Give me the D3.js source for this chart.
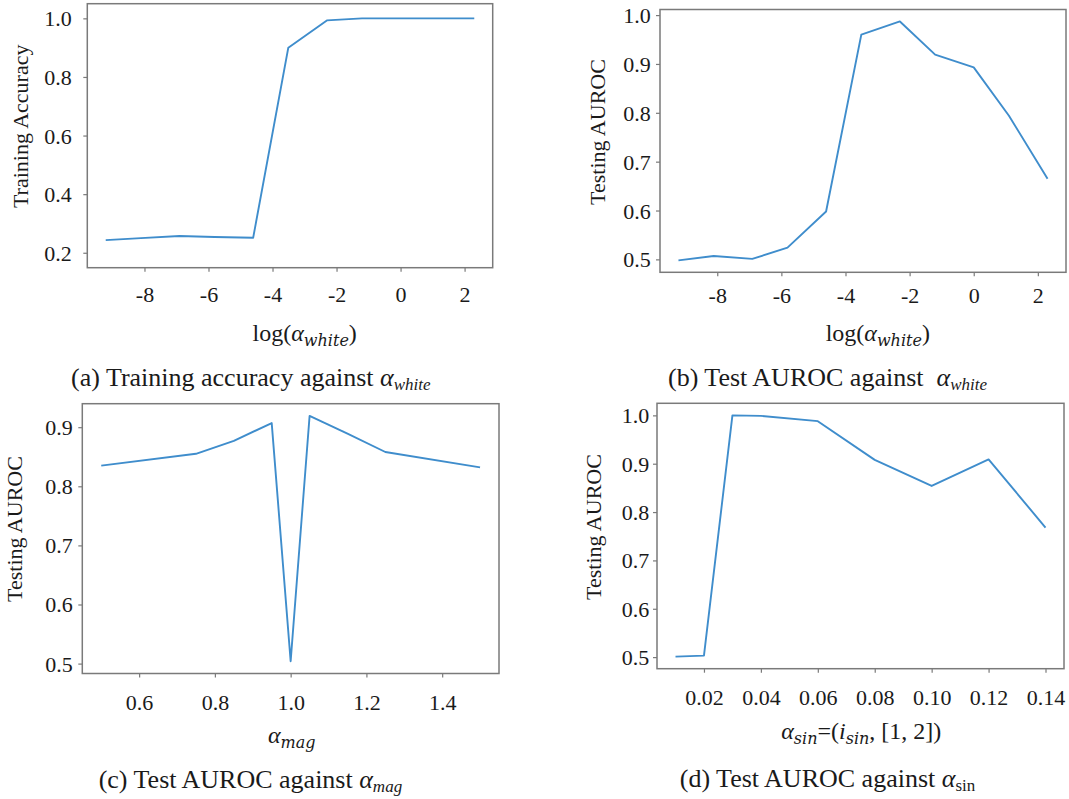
<!DOCTYPE html>
<html><head><meta charset="utf-8">
<script src="https://cdn.jsdelivr.net/npm/d3@7"></script>
<style>
html,body{margin:0;padding:0;background:#fff;}
svg{display:block;}
svg text{font-family:"Liberation Serif","Times New Roman",serif !important;fill:#1a1a1a;white-space:pre;}
svg text tspan.m{font-family:"DejaVu Serif",serif !important;}
</style></head>
<body>
<svg id="chart" width="1069" height="799"></svg>
<script>
// ---------------- data ----------------
const alphaWhite = [1e-4, 3e-4, 1e-3, 3e-3, 1e-2, 3e-2, 1e-1, 3e-1, 1, 3, 10];
const trainAccuracy = [0.243, 0.250, 0.257, 0.254, 0.251, 0.900, 0.993, 1.0, 1.0, 1.0, 1.0];
const testAurocWhite = [0.498, 0.507, 0.501, 0.524, 0.598, 0.960, 0.987, 0.919, 0.893, 0.794, 0.665];
const alphaMag = [0.5, 0.75, 0.85, 0.95, 1.0, 1.05, 1.15, 1.25, 1.5];
const testAurocMag = [0.835, 0.855, 0.877, 0.907, 0.504, 0.919, 0.889, 0.858, 0.832];
const alphaSin = [0.01, 0.02, 0.03, 0.04, 0.06, 0.08, 0.10, 0.12, 0.14];
const testAurocSin = [0.501, 0.503, 1.0, 0.999, 0.988, 0.908, 0.854, 0.909, 0.768];

const xTicksWhite = [-8, -6, -4, -2, 0, 2];
const yTicksTrain = [0.2, 0.4, 0.6, 0.8, 1.0];
const yTicksAuroc = [0.5, 0.6, 0.7, 0.8, 0.9, 1.0];
const xTicksMag = [0.6, 0.8, 1.0, 1.2, 1.4];
const yTicksMag = [0.5, 0.6, 0.7, 0.8, 0.9];
const xTicksSin = [0.02, 0.04, 0.06, 0.08, 0.10, 0.12, 0.14];

const yLabelTrain = "Training Accuracy";
const yLabelAuroc = "Testing AUROC";

// ---------------- layout ----------------
const svg = d3.select("#chart");
svg.append("rect").attr("width",1069).attr("height",799).attr("fill","#fff");

const LINE = "#3f8dcc", SPINE = "#7a7a7a";
const SERIF = '"Liberation Serif", "Times New Roman", serif';

function padded(arr){
  const [a,b] = d3.extent(arr); const p = (b-a)*0.05; return [a-p, b+p];
}
const intFmt = d => String(Math.round(d)); // hyphen-minus like reference

const panels = [
  { x: alphaWhite.map(Math.log), y: trainAccuracy,
    box:{l:87.3,r:492.7,t:3.7,b:267.7}, yDomain:[0.149,1.050],
    xTicks: xTicksWhite, yTicks: yTicksTrain, xFmt: intFmt, yFmt: d3.format(".1f"),
    xLabDy: 34, yLabGap: 15.6,
    yLabel: yLabelTrain, yLabX: 27.9, yLabY: 126.3,
    xlab: {cx:304.7, by:341, kind:"white"},
    cap: {cx:250.8, by:386, pre:"(a) Training accuracy against ", sub:"white", subItalic:true}
  },
  { x: alphaWhite.map(Math.log), y: testAurocWhite,
    box:{l:660,r:1066,t:9.5,b:272.3}, yDomain:null,
    xTicks: xTicksWhite, yTicks: yTicksAuroc, xFmt: intFmt, yFmt: d3.format(".1f"),
    xLabDy: 30.4, yLabGap: 9.3,
    yLabel: yLabelAuroc, yLabX: 604.5, yLabY: 132,
    xlab: {cx:877.8, by:341, kind:"white"},
    cap: {cx:827.5, by:386, pre:"(b) Test AUROC against  ", sub:"white", subItalic:true}
  },
  { x: alphaMag, y: testAurocMag,
    box:{l:82.3,r:499,t:403.7,b:673.5}, yDomain:null,
    xTicks: xTicksMag, yTicks: yTicksMag, xFmt: d3.format(".1f"), yFmt: d3.format(".1f"),
    xLabDy: 36.5, yLabGap: 9.6,
    yLabel: yLabelAuroc, yLabX: 22.2, yLabY: 529,
    xlab: {cx:291.7, by:743, kind:"mag"},
    cap: {cx:250.4, by:788, pre:"(c) Test AUROC against ", sub:"mag", subItalic:true}
  },
  { x: alphaSin, y: testAurocSin,
    box:{l:657,r:1064,t:403.3,b:668.7}, yDomain:null,
    xTicks: xTicksSin, yTicks: yTicksAuroc, xFmt: d3.format(".2f"), yFmt: d3.format(".1f"),
    xLabDy: 36.3, yLabGap: 7.7,
    yLabel: yLabelAuroc, yLabX: 601.2, yLabY: 527,
    xlab: {cx:861.3, by:738.5, kind:"sin"},
    cap: {cx:827.5, by:787, pre:"(d) Test AUROC against ", sub:"sin", subItalic:false}
  }
];

panels.forEach(p => {
  const xs = d3.scaleLinear().domain(padded(p.x)).range([p.box.l, p.box.r]);
  const ys = d3.scaleLinear().domain(p.yDomain || padded(p.y)).range([p.box.b, p.box.t]);
  const g = svg.append("g");

  // x axis
  const xa = g.append("g").attr("transform",`translate(0,${p.box.b})`)
    .call(d3.axisBottom(xs).tickValues(p.xTicks).tickFormat(p.xFmt).tickSize(4).tickPadding(0));
  xa.attr("font-family", null).attr("font-size", null);
  xa.select(".domain").remove();
  xa.selectAll(".tick line").attr("stroke",SPINE).attr("stroke-width",1.2);
  xa.selectAll(".tick text").style("font-family",SERIF).style("font-size","22px")
    .attr("fill","#1a1a1a").attr("y", p.xLabDy).attr("dy",0);

  // y axis
  const ya = g.append("g").attr("transform",`translate(${p.box.l},0)`)
    .call(d3.axisLeft(ys).tickValues(p.yTicks).tickFormat(p.yFmt).tickSize(4).tickPadding(0));
  ya.attr("font-family", null).attr("font-size", null);
  ya.select(".domain").remove();
  ya.selectAll(".tick line").attr("stroke",SPINE).attr("stroke-width",1.2);
  ya.selectAll(".tick text").style("font-family",SERIF).style("font-size","22px")
    .attr("fill","#1a1a1a").attr("x",-p.yLabGap).attr("dy","0.34em");

  // box
  g.append("rect").attr("x",p.box.l).attr("y",p.box.t)
    .attr("width",p.box.r-p.box.l).attr("height",p.box.b-p.box.t)
    .attr("fill","none").attr("stroke",SPINE).attr("stroke-width",1.5);

  // line
  const line = d3.line().x((d,i)=>xs(p.x[i])).y(d=>ys(d));
  g.append("path").datum(p.y).attr("d",line).attr("fill","none")
    .attr("stroke",LINE).attr("stroke-width",1.9).attr("stroke-linejoin","round");

  // y label
  g.append("text").attr("transform",`translate(${p.yLabX},${p.yLabY}) rotate(-90)`)
    .attr("text-anchor","middle").style("font-size","22px").text(p.yLabel);

  // x label (math)
  const xl = g.append("text").attr("x",p.xlab.cx).attr("y",p.xlab.by)
    .attr("text-anchor","middle").style("font-size","24px");
  const sub = (t) => xl.append("tspan").attr("class","m").style("font-style","italic")
      .style("font-size","16px").attr("dy",5).text(t);
  if (p.xlab.kind === "white") {
    xl.append("tspan").text("log(");
    xl.append("tspan").style("font-style","italic").text("α");
    sub("white");
    xl.append("tspan").attr("dy",-5).text(")");
  } else if (p.xlab.kind === "mag") {
    xl.append("tspan").style("font-style","italic").text("α");
    sub("mag");
  } else {
    xl.append("tspan").style("font-style","italic").text("α");
    sub("sin");
    xl.append("tspan").attr("dy",-5).text("=(");
    xl.append("tspan").style("font-style","italic").text("i");
    sub("sin");
    xl.append("tspan").attr("dy",-5).text(", [1, 2])");
  }

  // caption
  const cp = g.append("text").attr("x",p.cap.cx).attr("y",p.cap.by)
    .attr("text-anchor","middle").style("font-size","26px");
  cp.append("tspan").text(p.cap.pre);
  cp.append("tspan").style("font-style","italic").text("α");
  cp.append("tspan").style("font-size","17px").attr("dy",4)
    .style("font-style", p.cap.subItalic ? "italic" : "normal").text(p.cap.sub);
});
</script>
</body></html>
